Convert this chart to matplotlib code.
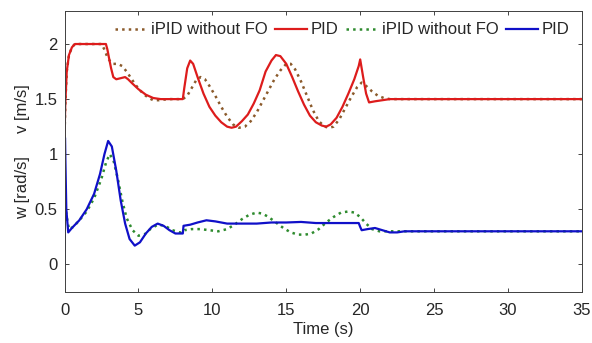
import numpy as np
import matplotlib
matplotlib.use("Agg")
import matplotlib.pyplot as plt

plt.rcParams['font.family'] = ['Liberation Sans', 'DejaVu Sans']

# v [m/s] - PID (red, solid)
t_v_pid = [0, 0.05, 0.15, 0.3, 0.5, 0.7, 1.0, 2.8, 2.9, 3.0, 3.15, 3.3, 3.5, 3.8, 4.1, 4.3,
           4.6, 5.0, 5.5, 6.0, 6.5, 8.0, 8.1, 8.3, 8.5, 8.7, 9.0, 9.4, 9.8, 10.2, 10.6, 11.0,
           11.3, 11.6, 12.0, 12.4, 12.8, 13.2, 13.6, 14.0, 14.3, 14.6, 15.0, 15.4, 15.8, 16.2,
           16.6, 17.0, 17.4, 17.7, 18.0, 18.4, 18.8, 19.2, 19.6, 19.9, 20.0, 20.2, 20.4, 20.6,
           21.0, 21.5, 22.0, 23.0, 35]
v_pid = [1.15, 1.45, 1.75, 1.9, 1.97, 2.0, 2.0, 2.0, 1.95, 1.88, 1.78, 1.70, 1.68, 1.69, 1.70, 1.68,
         1.64, 1.59, 1.54, 1.51, 1.50, 1.50, 1.60, 1.78, 1.85, 1.82, 1.70, 1.55, 1.43, 1.35, 1.29, 1.25,
         1.24, 1.25, 1.30, 1.36, 1.46, 1.58, 1.75, 1.85, 1.90, 1.89, 1.82, 1.70, 1.57, 1.45,
         1.35, 1.29, 1.26, 1.25, 1.27, 1.33, 1.43, 1.55, 1.68, 1.80, 1.86, 1.70, 1.55, 1.47,
         1.48, 1.49, 1.50, 1.50, 1.50]

# v [m/s] - iPID without FO (brown, dotted)
t_v_ipid = [0, 0.05, 0.15, 0.3, 0.5, 0.7, 1.0, 2.5, 2.7, 2.9, 3.1, 3.3, 3.6, 3.9, 4.2, 4.5, 4.8,
            5.1, 5.4, 5.7, 6.0, 6.4, 7.0, 8.0, 8.3, 8.6, 8.9, 9.2, 9.5, 9.8, 10.2, 10.6, 11.0,
            11.4, 11.8, 12.2, 12.6, 13.0, 13.4, 13.8, 14.2, 14.6, 15.0, 15.3, 15.6, 16.0, 16.4,
            16.8, 17.2, 17.6, 17.9, 18.2, 18.6, 19.0, 19.4, 19.8, 20.1, 20.4, 20.8, 21.2, 21.6,
            22.0, 22.5, 35]
v_ipid = [1.15, 1.45, 1.75, 1.9, 1.97, 2.0, 2.0, 2.0, 1.95, 1.88, 1.84, 1.82, 1.82, 1.80, 1.75, 1.69, 1.63,
          1.58, 1.54, 1.51, 1.49, 1.49, 1.50, 1.50, 1.53, 1.60, 1.67, 1.70, 1.68, 1.62, 1.53, 1.43, 1.34,
          1.27, 1.24, 1.25, 1.30, 1.38, 1.48, 1.58, 1.68, 1.76, 1.82, 1.82, 1.77, 1.66, 1.53,
          1.40, 1.30, 1.25, 1.24, 1.25, 1.32, 1.42, 1.52, 1.61, 1.65, 1.62, 1.57, 1.53, 1.51,
          1.50, 1.50, 1.50]

# w [rad/s] - PID (blue, solid)
t_w_pid = [0, 0.03, 0.12, 0.25, 0.5, 1.0, 1.5, 2.0, 2.4, 2.7, 2.95, 3.2, 3.5, 3.8, 4.1, 4.4, 4.75,
           5.1, 5.5, 5.9, 6.3, 6.7, 7.1, 7.5, 7.9, 8.0, 8.05, 8.5, 9.0, 9.6, 10.2, 11.0, 12.0, 13.0,
           14.0, 15.0, 16.0, 17.0, 18.0, 19.0, 19.9, 20.0, 20.1, 20.5, 21.0, 21.5, 22.0, 22.5,
           23.0, 24.0, 35]
w_pid = [0.0, 1.15, 0.5, 0.29, 0.33, 0.40, 0.50, 0.64, 0.82, 1.0, 1.12, 1.07, 0.85, 0.58, 0.37, 0.23, 0.17,
         0.20, 0.28, 0.34, 0.37, 0.35, 0.31, 0.28, 0.28, 0.28, 0.35, 0.36, 0.38, 0.40, 0.39, 0.37, 0.37, 0.37,
         0.38, 0.38, 0.385, 0.375, 0.375, 0.375, 0.375, 0.34, 0.31, 0.32, 0.33, 0.31, 0.29, 0.29,
         0.30, 0.30, 0.30]

# w [rad/s] - iPID without FO (green, dotted)
t_w_ipid = [0, 0.03, 0.12, 0.3, 0.6, 1.0, 1.5, 2.0, 2.5, 2.8, 3.05, 3.3, 3.6, 3.9, 4.2, 4.6, 5.0,
            5.4, 5.8, 6.3, 6.8, 7.3, 7.8, 8.0, 8.1, 8.6, 9.2, 9.8, 10.4, 11.0, 11.5, 12.0, 12.5,
            13.0, 13.4, 13.8, 14.3, 14.8, 15.3, 15.8, 16.3, 16.7, 17.2, 17.7, 18.2, 18.7, 19.2,
            19.6, 20.0, 20.4, 20.8, 21.3, 21.8, 22.5, 35]
w_ipid = [0.0, 0.6, 0.45, 0.32, 0.34, 0.40, 0.48, 0.60, 0.78, 0.92, 1.0, 0.95, 0.78, 0.58, 0.42, 0.31, 0.26,
          0.27, 0.32, 0.36, 0.35, 0.31, 0.29, 0.29, 0.31, 0.32, 0.32, 0.31, 0.30, 0.32, 0.36, 0.41, 0.45,
          0.47, 0.46, 0.43, 0.38, 0.33, 0.29, 0.27, 0.27, 0.28, 0.32, 0.38, 0.43, 0.47, 0.48,
          0.47, 0.43, 0.37, 0.32, 0.30, 0.30, 0.30, 0.30]

x_ticks = [0, 5, 10, 15, 20, 25, 30, 35]
y_ticks = [0, 0.5, 1, 1.5, 2]

fig = plt.figure(figsize=(5.92, 3.43), dpi=100)
ax = fig.add_axes([0.109, 0.149, 0.874, 0.819])

ax.plot(t_v_ipid, v_ipid, color='#8b5a2b', linestyle=':', linewidth=1.8, label='iPID without FO')
ax.plot(t_v_pid, v_pid, color='#dd1c1c', linestyle='-', linewidth=1.6, label='PID')
ax.plot(t_w_ipid, w_ipid, color='#2e8b2e', linestyle=':', linewidth=1.8, label='iPID without FO')
ax.plot(t_w_pid, w_pid, color='#1010c8', linestyle='-', linewidth=1.6, label='PID')

ax.set_xlim(0, 35)
ax.set_ylim(-0.25, 2.3)
ax.set_xticks(x_ticks)
ax.set_yticks(y_ticks)
ax.set_yticklabels(['0', '0.5', '1', '1.5', '2'])

txt = '#262626'
ax.tick_params(direction='in', top=True, right=True, length=3, width=0.6,
               labelsize=12, colors=txt)
ax.tick_params(axis='x', pad=8)
ax.tick_params(axis='y', pad=5)
for s in ax.spines.values():
    s.set_color('#404040')
    s.set_linewidth(0.7)

ax.set_xlabel('Time (s)', fontsize=12, color=txt, labelpad=3)
ax.set_ylabel('w [rad/s]     v [m/s]', fontsize=12, color=txt, labelpad=3)

ax.legend(loc='upper center', bbox_to_anchor=(0.537, 0.995), ncol=4, frameon=False,
          fontsize=12, handlelength=1.9, handletextpad=0.25, columnspacing=0.45,
          labelcolor=txt, borderaxespad=0.2)

fig.savefig('out.png', dpi=100)
